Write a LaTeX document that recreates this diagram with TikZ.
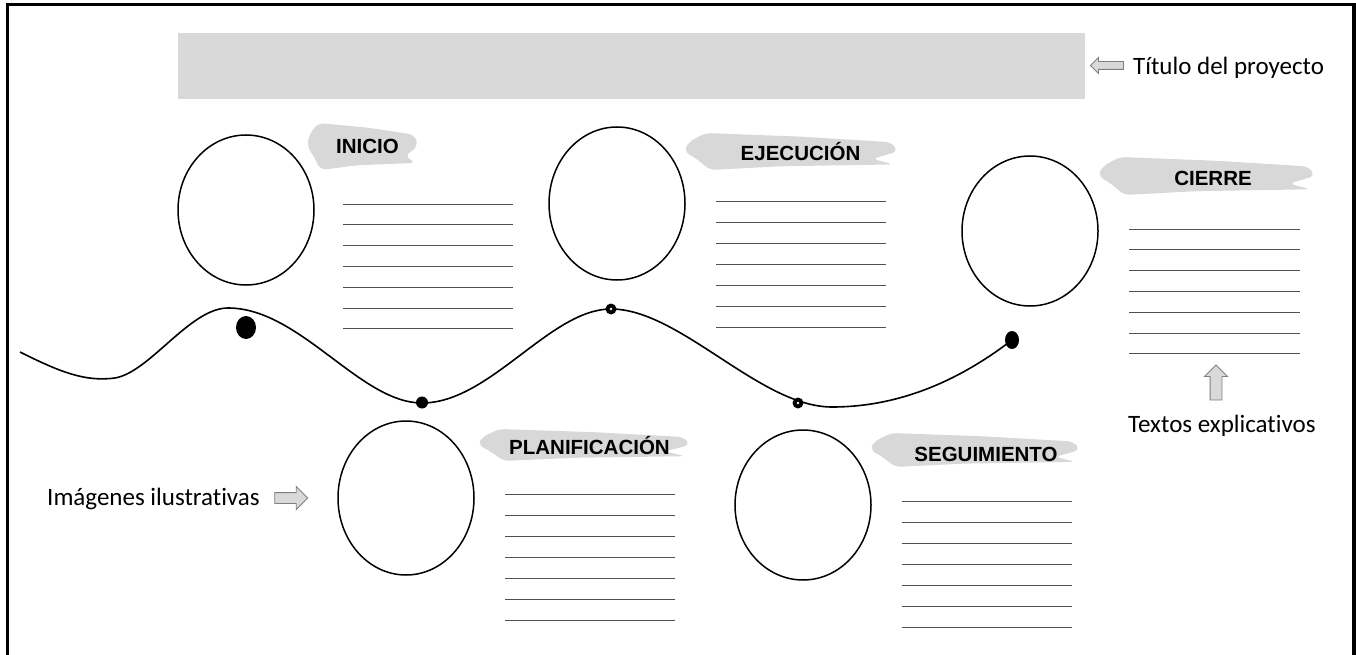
\documentclass[tikz,border=0pt]{standalone}
\usepackage{fontspec}
\setmainfont{Carlito}[Ligatures=NoCommon]
\newfontfamily\labelfont{Liberation Sans}
\usetikzlibrary{shapes.geometric,shapes.arrows}
\definecolor{barfill}{HTML}{D9D9D9}
\definecolor{brushgray}{HTML}{D8D8D8}
\definecolor{arrowedge}{HTML}{7F7F7F}
\definecolor{linegray}{HTML}{505050}
\newcommand\brushblob[4]{%
  \pgfmathsetmacro\brW{#3-#1}\pgfmathsetmacro\brH{#4-#2}%
  \fill[brushgray, rounded corners=6pt]
    ({#1+0.02*\brW},{#2+0.25*\brH}) -- ({#1+0.1*\brW},{#2}) -- ({#1+0.55*\brW},{#2+0.1*\brH})
    -- ({#3-0.03*\brW},{#2+0.25*\brH}) -- ({#3},{#2+0.5*\brH}) -- ({#3-0.12*\brW},{#2+0.7*\brH})
    -- ({#3-0.02*\brW},{#2+0.85*\brH}) -- ({#1+0.45*\brW},{#2+0.9*\brH}) -- ({#1+0.12*\brW},{#4})
    -- ({#1+0.06*\brW},{#2+0.7*\brH}) -- ({#1},{#2+0.5*\brH}) -- cycle;}
\begin{document}
\begin{tikzpicture}[x=1pt,y=-1pt,
  frame/.style={line width=3.5pt},
  bubble/.style={draw, ellipse, line width=1.5pt, minimum width=136pt, minimum height=150pt, inner sep=0pt},
  phase/.style={font=\labelfont\bfseries\fontsize{20.5}{24}\selectfont, inner sep=0pt},
  note/.style={font=\fontsize{25}{30}\selectfont, inner sep=0pt, anchor=base west},
  rule/.style={draw=linegray, line width=0.9pt},
  blockarrow/.style={single arrow, draw=arrowedge, fill=barfill, line width=0.9pt, inner xsep=0pt, single arrow tip angle=90},
  dot/.style={ellipse, fill=black, inner sep=0pt}
]
\useasboundingbox (0,0) rectangle (1356,655);
% frame
\draw[frame] (7.5,655) -- (7.5,4.5) -- (1354,4.5) -- (1354,655);
% title bar
\node[fill=barfill, inner sep=0pt, minimum width=907pt, minimum height=66pt] (titlebar) at (631.5,66) {};
\node[blockarrow, inner ysep=3.5pt, single arrow head extend=4pt, minimum height=33pt, rotate=180] (titlearrow) at (1109,65.5) {};
\node[note] (titletext) at (1133,75) {Título del proyecto};
% curve
\draw[line width=1.6pt] (20,352) .. controls (60,372) and (85,382) .. (115,378)
  .. controls (150,372) and (190,308) .. (228,308)
  .. controls (300,308) and (360,403) .. (422,403)
  .. controls (490,403) and (550,309) .. (611,309)
  .. controls (680,309) and (760,407) .. (832,407)
  .. controls (900,407) and (960,380) .. (1012,340);
\node[dot, minimum width=20pt, minimum height=23pt] (d1) at (246,327.5) {};
\node[dot, minimum width=12pt, minimum height=12pt] (d2) at (422,402.5) {};
\node[dot, minimum width=11pt, minimum height=11pt] (d3) at (611,309) {};
\node[dot, minimum width=11pt, minimum height=11pt] (d4) at (798,403) {};
\fill[white] (d3.center) circle (1.4);
\fill[white] (d4.center) circle (1.4);
\node[dot, minimum width=14pt, minimum height=18pt] (d5) at (1012,340) {};
% circles
\node[bubble] (c1) at (246,210) {};
\node[bubble, minimum height=153pt] (c2) at (617,203.5) {};
\node[bubble] (c3) at (1030,231) {};
\node[bubble, minimum height=154pt] (c4) at (406,498) {};
\node[bubble] (c5) at (803,505) {};
% brushes
\brushblob{307}{123}{418}{170}
\brushblob{684}{133}{898}{170}
\brushblob{1098}{157}{1315}{195}
\brushblob{478}{429}{690}{461}
\brushblob{870}{433}{1080}{467}
% labels
\node[phase] (l1) at (367.5,146) {INICIO};
\node[phase] (l2) at (800.5,152) {EJECUCIÓN};
\node[phase] (l3) at (1213,178) {CIERRE};
\node[phase] (l4) at (589.5,446) {PLANIFICACIÓN};
\node[phase] (l5) at (986,454) {SEGUIMIENTO};
% text lines
\foreach \k in {0,...,6} {
  \draw[rule] (343,{204+20.8*\k}) -- (513,{204+20.8*\k});
  \draw[rule] (716,{201+21*\k}) -- (886,{201+21*\k});
  \draw[rule] (1129,{229+20.8*\k}) -- (1300,{229+20.8*\k});
  \draw[rule] (505,{494+21*\k}) -- (675,{494+21*\k});
  \draw[rule] (902,{501+21*\k}) -- (1072,{501+21*\k});
}
% annotations
\node[note] (imgtext) at (47,505) {Imágenes ilustrativas};
\node[blockarrow, inner ysep=5pt, single arrow head extend=6pt, minimum height=33pt] (imgarrow) at (288.5,498) {};
\node[blockarrow, inner ysep=5.5pt, single arrow head extend=5.5pt, minimum height=35pt, rotate=90] (txtarrow) at (1216,385.5) {};
\node[note] (txttext) at (1128,432) {Textos explicativos};
\end{tikzpicture}
\end{document}
